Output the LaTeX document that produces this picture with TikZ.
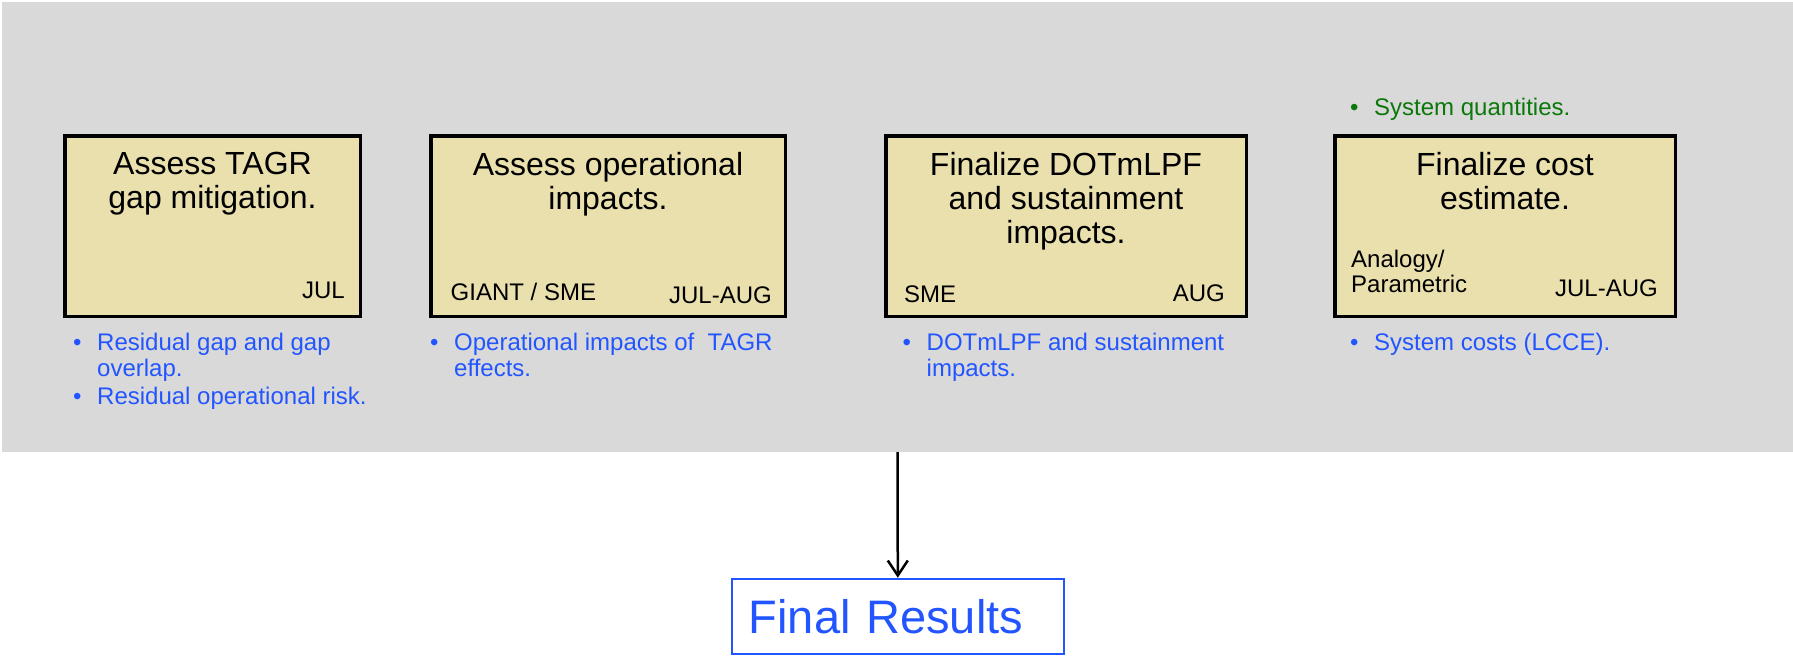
\documentclass[tikz,border=0pt]{standalone}
\usepackage{fontspec}
\setmainfont{Liberation Sans}
\usetikzlibrary{arrows.meta}
\definecolor{panelgray}{RGB}{217,217,217}
\definecolor{taskfill}{RGB}{233,224,174}
\definecolor{noteblue}{RGB}{34,85,255}
\definecolor{qtygreen}{RGB}{10,120,10}
\newcommand{\bul}{\makebox[24pt][l]{\textbullet}}
\newcommand{\ind}{\hspace*{24pt}}
\begin{document}
\begin{tikzpicture}[x=1pt,y=-1pt,
 task/.style={draw,line width=3.5pt,fill=taskfill,inner sep=0pt,minimum height=180.5pt},
 title/.style={anchor=north,align=center,font=\fontsize{32}{34}\selectfont},
 tag/.style={inner sep=0pt,font=\fontsize{24}{25}\selectfont},
 note/.style={anchor=north west,align=left,inner sep=0pt,text=noteblue,font=\fontsize{24}{26}\selectfont}]
\useasboundingbox (0,0) rectangle (1793,657);
\node[fill=panelgray,inner sep=0pt,minimum width=1791pt,minimum height=450pt] (work) at (897.5,227) {};
\node[task,minimum width=295.5pt] (tagr) at (212.5,226) {};
\node[title] (tagrtitle) at (212.5,148.5) {Assess TAGR\\gap mitigation.};
\node[tag,anchor=base east] (tagrwhen) at (345,298.3) {JUL};
\node[note] (tagrnote) at (73,333) {\bul Residual gap and gap\\\ind overlap.\\[2.3pt]\bul Residual operational risk.};
\node[task,minimum width=354.5pt] (ops) at (608,226) {};
\node[title] (opstitle) at (608,148.5) {Assess operational\\impacts.};
\node[tag,anchor=base west] (opswho) at (450.5,300) {GIANT / SME};
\node[tag,anchor=base east] (opswhen) at (772,303) {JUL-AUG};
\node[note] (opsnote) at (430,333) {\bul Operational impacts of~ TAGR\\\ind effects.};
\node[task,minimum width=360.5pt] (dot) at (1066,226) {};
\node[title] (dottitle) at (1066,148.5) {Finalize DOTmLPF\\and sustainment\\impacts.};
\node[tag,anchor=base west] (dotwho) at (904,302.7) {SME};
\node[tag,anchor=base east] (dotwhen) at (1225,301.7) {AUG};
\node[note] (dotnote) at (902.5,333) {\bul DOTmLPF and sustainment\\\ind impacts.};
\node[task,minimum width=340.5pt] (cost) at (1505,226) {};
\node[title] (costtitle) at (1505,148.5) {Finalize cost\\estimate.};
\node[tag,anchor=north west,align=left] (costwho) at (1351,250) {Analogy/\\Parametric};
\node[tag,anchor=base east] (costwhen) at (1658,296) {JUL-AUG};
\node[note] (costnote) at (1350,333) {\bul System costs (LCCE).};
\node[note,text=qtygreen] (costqty) at (1350,98.3) {\bul System quantities.};
\node[draw=noteblue,line width=2pt,text=noteblue,text width=298pt,align=left,inner xsep=17pt,minimum height=75.3pt,font=\fontsize{47}{50}\selectfont] (final) at (897.8,616.4) {Final Results};
\draw[line width=2.5pt,-{Straight Barb[length=15pt,width=20pt]}] (work.south) -- (final.north);
\end{tikzpicture}
\end{document}
